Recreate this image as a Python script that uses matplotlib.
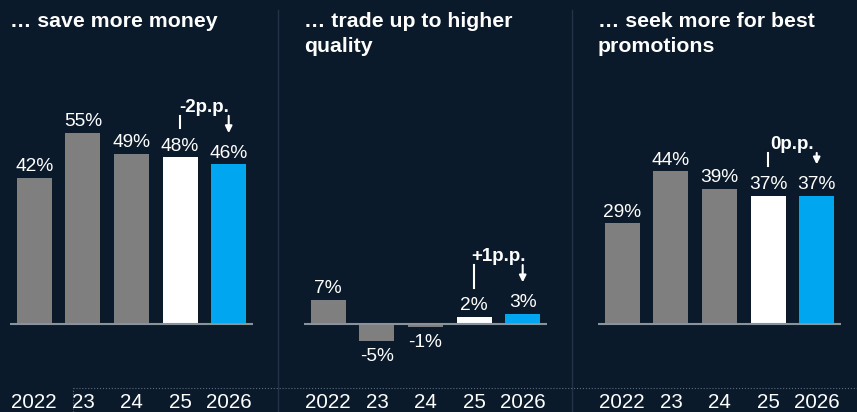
import matplotlib
matplotlib.use("Agg")
import matplotlib.pyplot as plt
from matplotlib.lines import Line2D
from matplotlib.transforms import blended_transform_factory

plt.rcParams['font.family'] = ['Liberation Sans', 'DejaVu Sans']

# data
years = ["2022", "23", "24", "25", "2026"]
titles = ["\u2026 save more money",
          "\u2026 trade up to higher\nquality",
          "\u2026 seek more for best\npromotions"]
save_money = [42, 55, 49, 48, 46]
trade_up = [7, -5, -1, 2, 3]
promotions = [29, 44, 39, 37, 37]
deltas = ["-2p.p.", "+1p.p.", "0p.p."]

panels = [save_money, trade_up, promotions]
bracket_top = [12, 15, 12.3]   # height of the bracket line above the '25' value

bg = "#0b1a2a"
grey = "#7f7f7f"
blue = "#00a6ef"
colors = [grey, grey, grey, "white", blue]

W, H = 857, 412
fig = plt.figure(figsize=(W / 100, H / 100), dpi=100, facecolor=bg)

lefts = [10, 304, 598]
for k, vals in enumerate(panels):
    ax = fig.add_axes([lefts[k] / W, (H - 370) / H, 243 / W, 310 / H])
    ax.set_facecolor(bg)
    ax.set_xlim(-0.5, 4.5)
    ax.set_ylim(-13.26, 76.08)
    ax.axis("off")

    x = range(len(years))
    ax.bar(x, vals, width=0.72, color=colors)
    ax.axhline(0, color="#8a929c", lw=1.5, zorder=3)

    for i, v in enumerate(vals):
        if v >= 0:
            ax.annotate(f"{v}%", (i, v), xytext=(0, 2), textcoords="offset points",
                        ha="center", va="bottom", color="white", fontsize=13.8)
        else:
            ax.annotate(f"{v}%", (i, v), xytext=(0, -4.5), textcoords="offset points",
                        ha="center", va="top", color="white", fontsize=13.8)

    # year labels
    tr = blended_transform_factory(ax.transData, fig.transFigure)
    for i, y in enumerate(years):
        ax.text(i, (H - 403) / H, y, transform=tr, ha="center", va="center",
                color="white", fontsize=14.8)

    # change bracket
    v25, v26 = vals[3], vals[4]
    top = v25 + bracket_top[k]
    ax.plot([3, 3], [v25 + 8.5, top], color="white", lw=1.5)
    ax.annotate("", xy=(4, v26 + 9), xytext=(4, top),
                arrowprops=dict(arrowstyle="-|>", color="white", lw=1.5,
                                mutation_scale=10, shrinkA=0, shrinkB=0))
    ax.text(3.5, top + 2.5, deltas[k], ha="center", va="center", color="white",
            fontsize=13.5, fontweight="bold")

    # title
    fig.text(lefts[k] / W, 1 - 12 / H, titles[k], ha="left", va="top",
             color="white", fontsize=15.3, fontweight="bold", linespacing=1.37)

# dividers
for xd in [278, 572]:
    fig.add_artist(Line2D([xd / W, xd / W], [0, 1 - 10 / H], transform=fig.transFigure,
                          color="#22324a", lw=1))

# dotted selection line at the bottom
fig.add_artist(Line2D([73 / W, 1], [1 - 388 / H, 1 - 388 / H], transform=fig.transFigure,
                      color="#5d6b7c", lw=0.8, ls=":"))
fig.add_artist(Line2D([73 / W, 73 / W], [0, 1 - 388 / H], transform=fig.transFigure,
                      color="#5d6b7c", lw=0.8, ls=":"))

fig.savefig("out.png", dpi=100, facecolor=bg)
